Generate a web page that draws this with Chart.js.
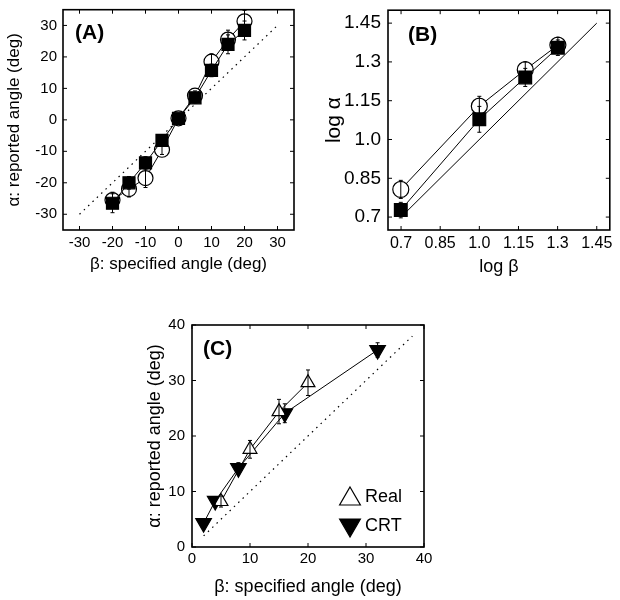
<!DOCTYPE html>
<html>
<head>
<meta charset="utf-8">
<script src="https://cdn.jsdelivr.net/npm/chart.js@4.4.0/dist/chart.umd.min.js"></script>
<style>
  body { margin: 0; background: #fff; }
  #wrap { position: relative; width: 620px; height: 600px; }
  canvas { position: absolute; }
</style>
</head>
<body>
<div id="wrap">
  <canvas id="panelA" width="310" height="290" style="left:0;top:0"></canvas>
  <canvas id="panelB" width="300" height="290" style="left:320px;top:0"></canvas>
  <canvas id="panelC" width="310" height="300" style="left:130px;top:300px"></canvas>
</div>
<script>
// panel A: reported vs specified angle
const betaA = [-20, -15, -10, -5, 0, 5, 10, 15, 20];
const alphaCircleA = [-25.5, -22, -18.5, -9.5, 0.5, 7.7, 18.5, 25.5, 31.3];
const errCircleA = [2.5, 2.5, 3, 1.5, 1, 1.5, 2.5, 3, 3.5];
const alphaSquareA = [-26.5, -20, -13.7, -6.5, 0.5, 7, 15.7, 24, 28.4];
const errSquareA = [3, 2, 2, 1.5, 1, 1.5, 2, 3, 3];
const diagA = [-30, 30];
const ticksA = [-30, -20, -10, 0, 10, 20, 30];

// panel B: log-log
const logBetaB = [0.699, 1.0, 1.176, 1.301];
const logCircleB = [0.807, 1.129, 1.27, 1.365];
const errCircleB = [0.035, 0.038, 0.03, 0.03];
const logSquareB = [0.727, 1.078, 1.24, 1.355];
const errSquareB = [0.03, 0.05, 0.035, 0.03];
const diagB = [0.7, 1.45];
const ticksB = [0.7, 0.85, 1.0, 1.15, 1.3, 1.45];
const tickLabelsB = ['0.7', '0.85', '1.0', '1.15', '1.3', '1.45'];

// panel C: real vs CRT
const betaReal = [5, 10, 15, 20];
const alphaReal = [8.2, 17.6, 24.4, 29.6];
const errReal = [1, 1.6, 2.2, 2.3];
const betaCRT = [2, 4, 8, 16, 32];
const alphaCRT = [4.3, 8.3, 14.2, 24.1, 35.5];
const errCRT = [0.8, 0.8, 1, 1.7, 1.3];
const diagC = [2, 38];
const ticksC = [0, 10, 20, 30, 40];
const legendC = ['Real', 'CRT'];

const FONT = 'Liberation Sans, Arial, sans-serif';

function pts(xs, ys) {
  return xs.map((x, i) => ({ x: x, y: ys[i] }));
}

const errorBars = {
  id: 'errorBars',
  afterDatasetsDraw(chart) {
    const { ctx, scales: { y } } = chart;
    ctx.save();
    ctx.strokeStyle = '#000';
    ctx.lineWidth = 1;
    chart.data.datasets.forEach((ds, i) => {
      if (!ds.errors) return;
      chart.getDatasetMeta(i).data.forEach((el, j) => {
        const v = ds.data[j].y;
        const top = y.getPixelForValue(v + ds.errors[j]);
        const bot = y.getPixelForValue(v - ds.errors[j]);
        ctx.beginPath();
        ctx.moveTo(el.x, top); ctx.lineTo(el.x, bot);
        ctx.moveTo(el.x - 2, top); ctx.lineTo(el.x + 2, top);
        ctx.moveTo(el.x - 2, bot); ctx.lineTo(el.x + 2, bot);
        ctx.stroke();
      });
    });
    ctx.restore();
  }
};

const frame = {
  id: 'frame',
  afterDatasetsDraw(chart, args, opts) {
    const { ctx, chartArea: a, scales: { x, y } } = chart;
    ctx.save();
    ctx.strokeStyle = '#000';
    ctx.lineWidth = 1;
    ctx.beginPath();
    x.ticks.forEach(t => {
      const px = x.getPixelForValue(t.value);
      ctx.moveTo(px, a.bottom); ctx.lineTo(px, a.bottom - 4);
      ctx.moveTo(px, a.top); ctx.lineTo(px, a.top + 4);
    });
    y.ticks.forEach(t => {
      const py = y.getPixelForValue(t.value);
      ctx.moveTo(a.left, py); ctx.lineTo(a.left + 4, py);
      ctx.moveTo(a.right, py); ctx.lineTo(a.right - 4, py);
    });
    ctx.stroke();
    ctx.lineWidth = 1.6;
    ctx.strokeRect(a.left, a.top, a.right - a.left, a.bottom - a.top);
    // panel letter
    ctx.fillStyle = '#000';
    ctx.font = 'bold 21px ' + FONT;
    ctx.textBaseline = 'middle';
    ctx.fillText(opts.label, a.left + opts.dx, a.top + opts.dy);
    ctx.restore();
  }
};

const markerLegend = {
  id: 'markerLegend',
  afterDraw(chart, args, opts) {
    if (!opts.items) return;
    const { ctx, chartArea: a } = chart;
    ctx.save();
    ctx.font = '18px ' + FONT;
    ctx.textBaseline = 'middle';
    opts.items.forEach((it, i) => {
      const ds = chart.data.datasets[it.dataset];
      const cx = a.right - 74;
      const cy = a.bottom - 50 + i * 29;
      ctx.fillStyle = ds.pointBackgroundColor;
      ctx.strokeStyle = '#000';
      ctx.lineWidth = 1.2;
      Chart.helpers.drawPoint(ctx, {
        pointStyle: ds.pointStyle, rotation: ds.pointRotation || 0,
        radius: 12, borderWidth: 1.2
      }, cx, cy + (ds.pointRotation ? -1 : 2));
      ctx.fillStyle = '#000';
      ctx.fillText(it.text, cx + 15, cy);
    });
    ctx.restore();
  }
};

function axis(pos, min, max, ticks, title, size, tickPad, titlePad, tickSize, titleSize, labels) {
  return {
    type: 'linear',
    position: pos,
    min: min,
    max: max,
    grid: { display: false, drawTicks: false },
    border: { display: false },
    afterBuildTicks: s => { s.ticks = ticks.map(v => ({ value: v })); },
    afterFit: s => {
      if (pos === 'left') s.width = size; else s.height = size;
      // keep the plot box where the layout padding puts it
      s.paddingTop = 0; s.paddingBottom = 0;
      s.paddingLeft = 0; s.paddingRight = 0;
    },
    ticks: {
      padding: tickPad,
      color: '#000',
      font: { family: FONT, size: tickSize },
      callback: v => labels ? labels[ticks.indexOf(v)] : String(v),
    },
    title: {
      display: true,
      text: title,
      color: '#000',
      font: { family: FONT, size: titleSize },
      padding: pos === 'left' ? { top: titlePad, bottom: 0 } : { top: 0, bottom: titlePad },
    },
  };
}

function lineSet(data, errors, style) {
  return Object.assign({
    data: data,
    errors: errors,
    showLine: true,
    borderColor: '#000',
    borderWidth: 1,
    pointBorderColor: '#000',
    pointBorderWidth: 1.2,
  }, style);
}

function diagSet(data, dashed) {
  return {
    data: data,
    showLine: true,
    borderColor: '#000',
    borderWidth: dashed ? 1.2 : 1,
    borderDash: dashed ? [1.5, 4.5] : [],
    pointRadius: 0,
  };
}

function build(id, datasets, xAxis, yAxis, padding, frameOpts, legendOpts) {
  new Chart(document.getElementById(id), {
    type: 'scatter',
    data: { datasets: datasets },
    options: {
      responsive: false,
      animation: false,
      layout: { padding: padding },
      scales: { x: xAxis, y: yAxis },
      plugins: {
        legend: { display: false },
        tooltip: { enabled: false },
        frame: frameOpts,
        markerLegend: legendOpts || {},
      },
    },
    plugins: [errorBars, frame, markerLegend],
  });
}

// first dataset is drawn on top, so the filled squares go first
build('panelA', [
  lineSet(pts(betaA, alphaSquareA), errSquareA, { pointStyle: 'rect', pointRadius: 8.5, pointBackgroundColor: '#000' }),
  lineSet(pts(betaA, alphaCircleA), errCircleA, { pointStyle: 'circle', pointRadius: 7.5, pointBackgroundColor: '#fff' }),
  diagSet(pts(diagA, diagA), true),
],
  axis('bottom', -35, 35, ticksA, 'β: specified angle (deg)', 60, 4, 15, 15, 17),
  axis('left', -35, 35, ticksA, 'α: reported angle (deg)', 63, 6, 4, 15, 17),
  { top: 8, right: 16, left: 0, bottom: 0 },
  { label: '(A)', dx: 12, dy: 24 });

build('panelB', [
  lineSet(pts(logBetaB, logSquareB), errSquareB, { pointStyle: 'rect', pointRadius: 9, pointBackgroundColor: '#000' }),
  lineSet(pts(logBetaB, logCircleB), errCircleB, { pointStyle: 'circle', pointRadius: 8, pointBackgroundColor: '#fff' }),
  diagSet(pts(diagB, diagB), false),
],
  axis('bottom', 0.65, 1.5, ticksB, 'log β', 60, 4, 12, 16, 18, tickLabelsB),
  axis('left', 0.65, 1.5, ticksB, 'log α', 68, 7, 2, 19, 21, tickLabelsB),
  { top: 8, right: 2, left: 0, bottom: 0 },
  { label: '(B)', dx: 20, dy: 25 });

build('panelC', [
  lineSet(pts(betaReal, alphaReal), errReal, { pointStyle: 'triangle', pointRadius: 8, pointBackgroundColor: '#fff' }),
  lineSet(pts(betaCRT, alphaCRT), errCRT, { pointStyle: 'triangle', pointRotation: 180, pointRadius: 9, pointBackgroundColor: '#000' }),
  diagSet(pts(diagC, diagC), true),
],
  axis('bottom', 0, 40, ticksC, 'β: specified angle (deg)', 53, 3, 2, 15, 18),
  axis('left', 0, 40, ticksC, 'α: reported angle (deg)', 62, 7, 14, 15, 18),
  { top: 25, right: 16, left: 0, bottom: 0 },
  { label: '(C)', dx: 11, dy: 24 },
  { items: [{ dataset: 0, text: legendC[0] }, { dataset: 1, text: legendC[1] }] });
</script>
</body>
</html>
